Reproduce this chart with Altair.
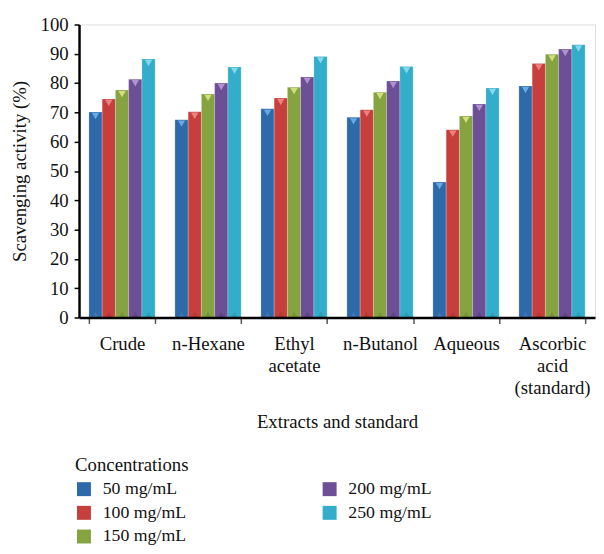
import altair as alt
import pandas as pd

categories = ["Crude", "n-Hexane", "Ethyl\nacetate", "n-Butanol", "Aqueous", "Ascorbic\nacid\n(standard)"]
concentrations = ["50 mg/mL", "100 mg/mL", "150 mg/mL", "200 mg/mL", "250 mg/mL"]
colors = ["#2e69a9", "#c73f3c", "#86a342", "#6c4f95", "#33adca"]
tip_colors = ["#6cb3e8", "#ee8a88", "#d8e685", "#b79ad6", "#8fdcee"]
base_colors = ["#4a7fbd", "#a83330", "#6f8a33", "#583e7d", "#2a91aa"]

v50 = [70.1, 67.5, 71.2, 68.3, 46.2, 79.0]
v100 = [74.6, 70.2, 74.9, 70.9, 64.1, 86.7]
v150 = [77.6, 76.3, 78.6, 76.9, 68.8, 89.8]
v200 = [81.3, 80.0, 82.1, 80.7, 72.9, 91.6]
v250 = [88.2, 85.5, 89.1, 85.7, 78.3, 93.1]
series = [v50, v100, v150, v200, v250]
y_ticks = [0, 10, 20, 30, 40, 50, 60, 70, 80, 90, 100]

rows = []
for ci, c in enumerate(concentrations):
    for gi, g in enumerate(categories):
        rows.append({"group": g, "conc": c, "value": series[ci][gi],
                     "tip": tip_colors[ci], "base": base_colors[ci], "zero": 0})
df = pd.DataFrame(rows)

color_scale = alt.Scale(domain=concentrations, range=colors)

FONT = "Liberation Serif"
FS = 19

x = alt.X("group:N", sort=categories, title="Extracts and standard",
          scale=alt.Scale(paddingInner=0.23, paddingOuter=0.115),
          axis=alt.Axis(labelAngle=0, labelExpr="split(datum.label, '\\n')",
                        tickBand="extent", tickSize=6, tickColor="#555555", tickWidth=1.5,
                        domainColor="black", domainWidth=2.5, zindex=1,
                        labelFont=FONT, labelFontSize=FS, labelColor="#111111",
                        labelPadding=11, labelLineHeight=22.5, labelOverlap=False,
                        titleFont=FONT, titleFontSize=FS, titleFontWeight="normal",
                        titlePadding=15, titleColor="#111111"))
xo = alt.XOffset("conc:N", sort=concentrations, scale=alt.Scale(paddingInner=0, paddingOuter=0))
y_axis = alt.Axis(values=y_ticks, grid=False, tickSize=5, labelOverlap=False,
                  tickColor="black", tickWidth=1.5, domainColor="black", domainWidth=2.5,
                  zindex=1,
                  labelFont=FONT, labelFontSize=FS, labelColor="#111111", labelPadding=6,
                  titleFont=FONT, titleFontSize=FS, titleFontWeight="normal",
                  titlePadding=11, titleColor="#111111")
y_scale = alt.Scale(domain=[0, 100], nice=False)
y = alt.Y("value:Q", title="Scavenging activity (%)", scale=y_scale, axis=y_axis)
y0 = alt.Y("zero:Q", title="Scavenging activity (%)", scale=y_scale, axis=y_axis)

bars = alt.Chart(df).mark_bar(stroke="#ffffff", strokeOpacity=0.35, strokeWidth=0.6).encode(
    x=x, xOffset=xo, y=y,
    color=alt.Color("conc:N", scale=color_scale, title="Concentrations",
                    legend=alt.Legend(orient="none", legendX=-4, legendY=438, columns=2,
                                      columnPadding=136, rowPadding=6,
                                      symbolType="square", symbolSize=200, symbolStrokeWidth=0,
                                      labelFont=FONT, labelFontSize=18, labelColor="#111111",
                                      labelOffset=10,
                                      titleFont=FONT, titleFontSize=FS, titleFontWeight="normal",
                                      titleColor="#111111", titlePadding=5)),
)

tips = alt.Chart(df).mark_point(shape="triangle-down", filled=True, size=55, opacity=0.9,
                                yOffset=4).encode(
    x=x, xOffset=xo, y=y,
    color=alt.Color("tip:N", scale=None),
)

bases = alt.Chart(df).mark_point(shape="triangle-up", filled=True, size=40, opacity=0.6,
                                 yOffset=-3).encode(
    x=x, xOffset=xo, y=y0,
    color=alt.Color("base:N", scale=None),
)

chart = alt.layer(bars, tips, bases).properties(
    width=523, height=297,
    autosize=alt.AutoSizeParams(type="none"),
    padding={"left": 72, "top": 13, "right": 1, "bottom": 235},
).configure_view(stroke=None).configure(background="white")

chart.save("out.html", embed_options={"renderer": "svg", "actions": False})
